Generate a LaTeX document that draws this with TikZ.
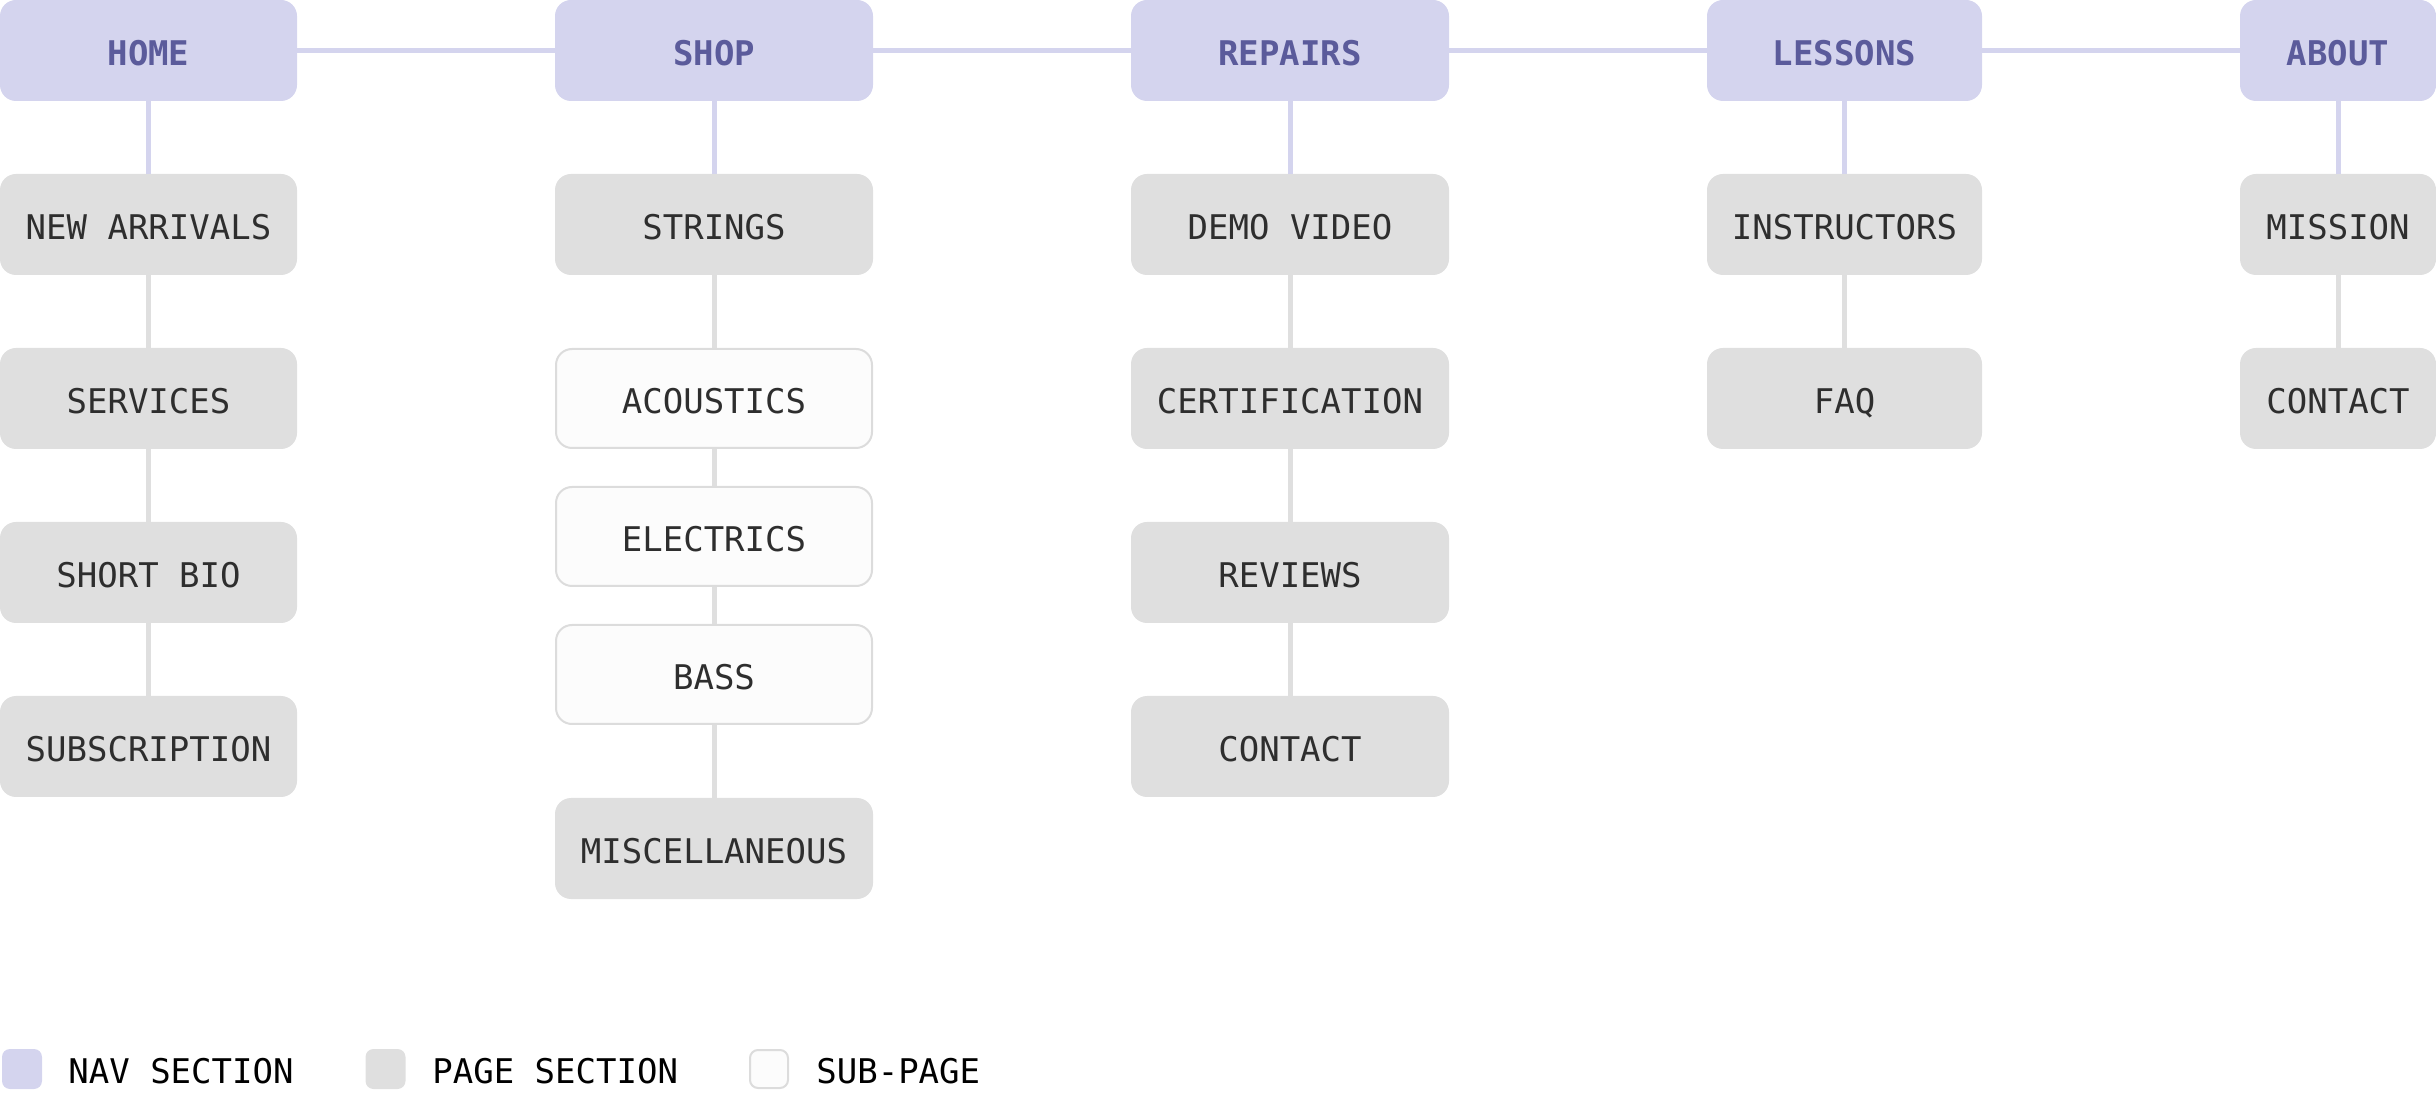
\documentclass[tikz,border=0pt]{standalone}
\usepackage{fontspec}
\newfontfamily\monofont{DejaVu Sans Mono}

\definecolor{navfill}{HTML}{D4D4EE}
\definecolor{navtext}{HTML}{5B5B9B}
\definecolor{pagefill}{HTML}{DFDFDF}
\definecolor{pagetext}{HTML}{2E2E2E}
\definecolor{subfill}{HTML}{FCFCFC}
\definecolor{subline}{HTML}{DCDCDC}

\tikzset{
  box/.style={rounded corners=8pt, minimum height=50.5pt, inner sep=0pt,
    text height=15pt, text depth=0pt,
    font=\monofont\fontsize{17}{19}\selectfont},
  navbox/.style={box, fill=navfill, text=navtext, font=\monofont\bfseries\fontsize{17}{19}\selectfont},
  pagebox/.style={box, fill=pagefill, text=pagetext},
  subbox/.style={box, fill=subfill, draw=subline, line width=1pt, text=pagetext},
  navlink/.style={draw=navfill, line width=2.5pt},
  pagelink/.style={draw=pagefill, line width=2.5pt},
  key/.style={rounded corners=4pt, minimum size=20pt, inner sep=0pt},
  keytext/.style={anchor=west, inner sep=0pt, text=black,
    text height=14pt, text depth=0pt,
    font=\monofont\fontsize{17}{19}\selectfont}
}

\begin{document}
\begin{tikzpicture}[x=0.5pt, y=-0.5pt]
\useasboundingbox (0, 0) rectangle (2436, 1095);

% nav sections
\node[navbox, minimum width=148.5pt] (home) at (148.5, 50.5) {HOME};
\node[navbox, minimum width=159pt] (shop) at (714, 50.5) {SHOP};
\node[navbox, minimum width=159pt] (repairs) at (1290, 50.5) {REPAIRS};
\node[navbox, minimum width=137.5pt] (lessons) at (1844.5, 50.5) {LESSONS};
\node[navbox, minimum width=98pt] (about) at (2338, 50.5) {ABOUT};

% home
\node[pagebox, minimum width=148.5pt] (arrivals) at (148.5, 224.5) {NEW ARRIVALS};
\node[pagebox, minimum width=148.5pt] (services) at (148.5, 398.5) {SERVICES};
\node[pagebox, minimum width=148.5pt] (bio) at (148.5, 572.5) {SHORT BIO};
\node[pagebox, minimum width=148.5pt] (subscription) at (148.5, 746.5) {SUBSCRIPTION};

% shop
\node[pagebox, minimum width=159pt] (strings) at (714, 224.5) {STRINGS};
\node[subbox, minimum width=158pt, minimum height=49.5pt] (acoustics) at (714, 398.5) {ACOUSTICS};
\node[subbox, minimum width=158pt, minimum height=49.5pt] (electrics) at (714, 536.5) {ELECTRICS};
\node[subbox, minimum width=158pt, minimum height=49.5pt] (bass) at (714, 674.5) {BASS};
\node[pagebox, minimum width=159pt] (misc) at (714, 848.5) {MISCELLANEOUS};

% repairs
\node[pagebox, minimum width=159pt] (demo) at (1290, 224.5) {DEMO VIDEO};
\node[pagebox, minimum width=159pt] (certification) at (1290, 398.5) {CERTIFICATION};
\node[pagebox, minimum width=159pt] (reviews) at (1290, 572.5) {REVIEWS};
\node[pagebox, minimum width=159pt] (contactrep) at (1290, 746.5) {CONTACT};

% lessons
\node[pagebox, minimum width=137.5pt] (instructors) at (1844.5, 224.5) {INSTRUCTORS};
\node[pagebox, minimum width=137.5pt] (faq) at (1844.5, 398.5) {FAQ};

% about
\node[pagebox, minimum width=98pt] (mission) at (2338, 224.5) {MISSION};
\node[pagebox, minimum width=98pt] (contactabout) at (2338, 398.5) {CONTACT};

% links
\draw[navlink] (home) -- (shop);
\draw[navlink] (shop) -- (repairs);
\draw[navlink] (repairs) -- (lessons);
\draw[navlink] (lessons) -- (about);

\draw[navlink] (home) -- (arrivals);
\draw[navlink] (shop) -- (strings);
\draw[navlink] (repairs) -- (demo);
\draw[navlink] (lessons) -- (instructors);
\draw[navlink] (about) -- (mission);

\draw[pagelink] (arrivals) -- (services);
\draw[pagelink] (services) -- (bio);
\draw[pagelink] (bio) -- (subscription);

\draw[pagelink] (strings) -- (acoustics);
\draw[pagelink] (acoustics) -- (electrics);
\draw[pagelink] (electrics) -- (bass);
\draw[pagelink] (bass) -- (misc);

\draw[pagelink] (demo) -- (certification);
\draw[pagelink] (certification) -- (reviews);
\draw[pagelink] (reviews) -- (contactrep);

\draw[pagelink] (instructors) -- (faq);
\draw[pagelink] (mission) -- (contactabout);

% legend
\node[key, fill=navfill] (keynav) at (22, 1069) {};
\node[keytext] (keynavtext) at (68, 1069) {NAV SECTION};
\node[key, fill=pagefill] (keypage) at (385.5, 1069) {};
\node[keytext] (keypagetext) at (432, 1069) {PAGE SECTION};
\node[key, fill=subfill, draw=subline, line width=1pt, minimum size=19pt] (keysub) at (769, 1069) {};
\node[keytext] (keysubtext) at (816, 1069) {SUB-PAGE};
\end{tikzpicture}
\end{document}
